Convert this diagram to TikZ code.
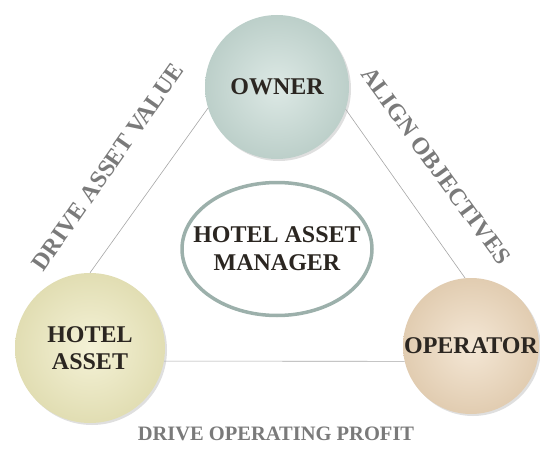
\documentclass[tikz,border=0pt]{standalone}
\usepackage{fontspec}
\setmainfont{Liberation Serif}
\usetikzlibrary{shapes.geometric,shadows}
\definecolor{ownerfill}{HTML}{C6DAD4}
\definecolor{assetfill}{HTML}{EDE9BC}
\definecolor{operfill}{HTML}{EDD7BA}
\definecolor{ringcol}{HTML}{9CB0AB}
\definecolor{labelcol}{HTML}{7A7A7A}
\definecolor{inkcol}{HTML}{2B2621}
\begin{document}
\begin{tikzpicture}[x=1pt,y=1pt,
  button/.style={circle,inner sep=0pt,text=inkcol,align=center,
    font=\fontsize{24}{27}\selectfont\bfseries,
    drop shadow={opacity=0.25,shadow xshift=2pt,shadow yshift=-2pt}},
  link/.style={draw=gray!70,line width=0.6pt},
  tag/.style={text=labelcol,inner sep=0pt,font=\fontsize{24}{28}\selectfont\bfseries}]
 \useasboundingbox (0,0) rectangle (540,448);
 \node[button,minimum size=144pt,shading=radial,inner color=ownerfill!60,outer color=ownerfill!95!black,name=owner] at (277,361) {OWNER};
 \node[button,minimum size=150pt,shading=radial,inner color=assetfill!60,outer color=assetfill!95!black,name=asset] at (90,100) {HOTEL\\ASSET};
 \node[button,minimum size=136pt,shading=radial,inner color=operfill!60,outer color=operfill!95!black,name=operator] at (471,102) {OPERATOR};
 \node[ellipse,draw=ringcol,line width=3.5pt,fill=white,minimum width=190pt,minimum height=133pt,
   inner xsep=-17pt,inner ysep=0pt,align=center,text=inkcol,font=\fontsize{24}{28}\selectfont\bfseries,name=manager] at (277,199) {HOTEL ASSET\\MANAGER};
 \draw[link] (owner.197) -- (asset.90);
 \draw[link] (owner.342) -- (operator.95);
 \draw[link] (asset.-10) -- (operator.193);
 \node[tag,rotate=55,name=valuetag] at (108,281) {DRIVE ASSET VALUE};
 \node[tag,rotate=-54,name=aligntag] at (436,282) {ALIGN OBJECTIVES};
 \node[tag,anchor=base,font=\fontsize{20.5}{24}\selectfont\bfseries,name=profittag] at (276,8) {DRIVE OPERATING PROFIT};
\end{tikzpicture}
\end{document}
